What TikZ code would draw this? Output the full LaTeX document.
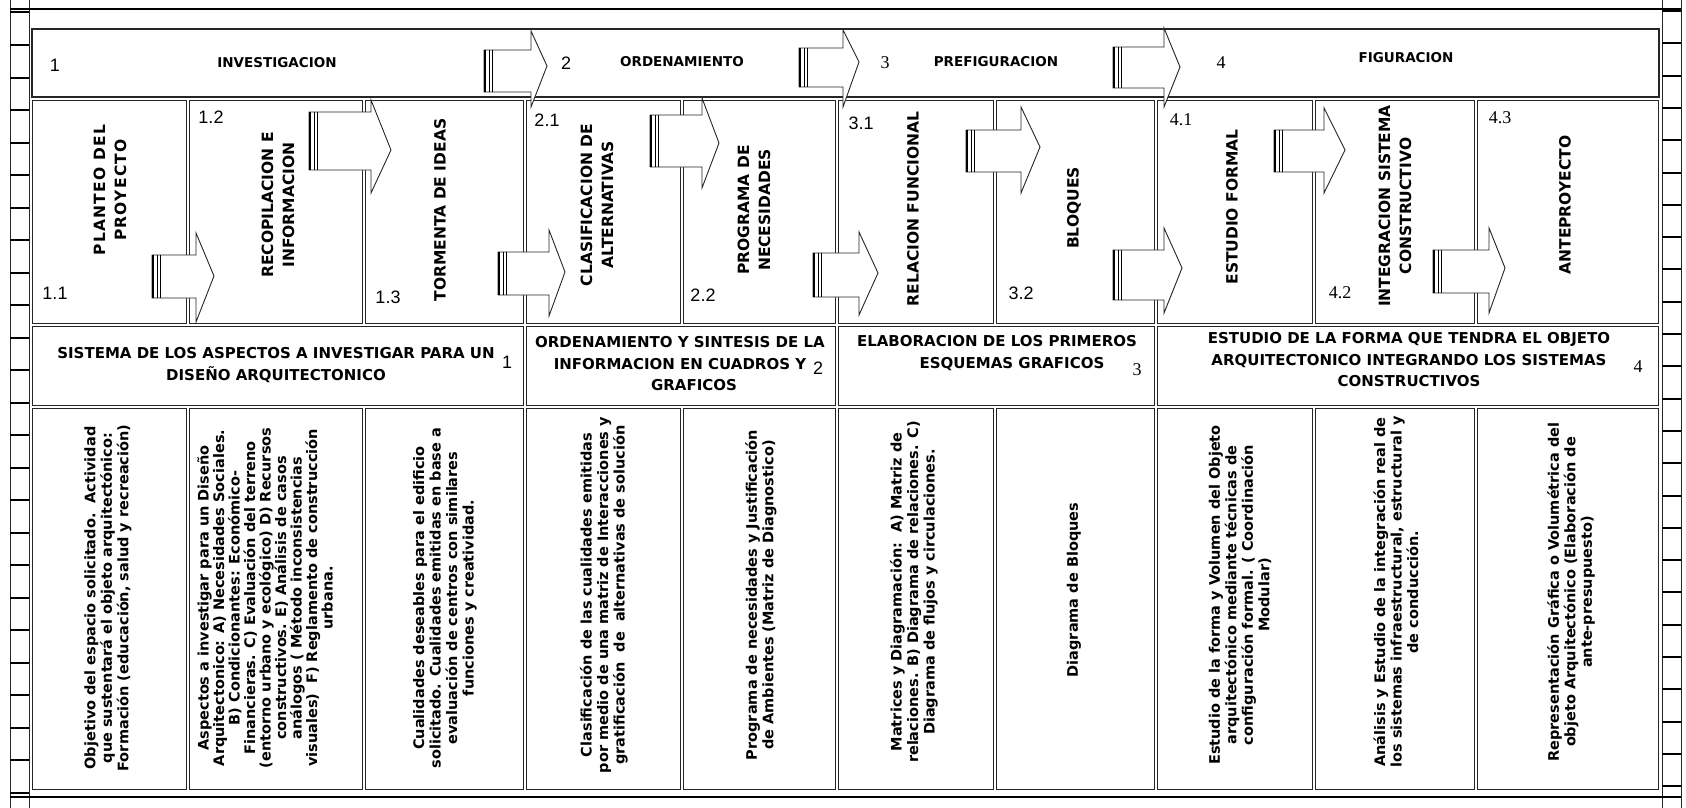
\documentclass[tikz,border=0pt]{standalone}
\usepackage{fontspec}
\setmainfont{DejaVu Sans}
\newfontfamily\numsf{Liberation Sans}
\newfontfamily\numrm{Liberation Serif}
\usetikzlibrary{positioning}

\tikzset{
  frame/.style={draw=black!85,line width=1pt},
  ttl/.style={font=\fontsize{13.5}{16}\selectfont\bfseries,inner sep=0pt},
  stg/.style={rotate=90,align=center,font=\fontsize{15.5}{21}\selectfont\bfseries,inner sep=0pt},
  dsc/.style={align=center,font=\fontsize{15}{21.5}\selectfont\bfseries,inner sep=0pt},
  det/.style={rotate=90,align=center,font=\fontsize{14.5}{16.5}\selectfont\bfseries,inner sep=0pt},
  numa/.style={font=\fontsize{18}{18}\selectfont\numsf,inner sep=0pt},
  numb/.style={font=\fontsize{18}{18}\selectfont\numrm,inner sep=0pt}
}

% block arrow: left, head base, shaft top, shaft bottom, head top, head bottom, tip x, tip y
\newcommand{\blockarr}[8]{%
  \draw[frame,fill=white,line width=0.9pt] (#1,#3) -- (#2,#3) -- (#2,#5) -- (#7,#8) -- (#2,#6) -- (#2,#4) -- (#1,#4) -- cycle;
  \draw[line width=2.4pt] (#1+1,#3) -- (#1+1,#4);
  \draw[line width=0.8pt] (#1+5,#3) -- (#1+5,#4) (#1+8,#3) -- (#1+8,#4);
}

\begin{document}
\begin{tikzpicture}[x=1pt,y=-1pt]
\useasboundingbox (0,0) rectangle (1686,808);

\draw[frame] (10,0) -- (10,808) (29,0) -- (29,808) (1662,0) -- (1662,808) (1681,0) -- (1681,808);
\foreach \k in {0,...,24} {
  \draw[line width=2pt] (10,{12.5+32.5*\k}) -- (29,{12.5+32.5*\k});
  \draw[line width=2pt] (1662,{11+32.3*\k}) -- (1681,{11+32.3*\k});
}
\draw[line width=2.5pt] (10,9) -- (1681,9);
\draw[line width=1.5pt] (10,797) -- (1681,797);

\draw[frame,line width=1.6pt] (32,29) rectangle (1659,97);
\foreach \a/\b in {31/188,188/364,364/525,525/682,682/837,837/995,995/1156,1156/1314,1314/1476,1476/1660} {
  \draw[frame] (\a+1.5,100) rectangle (\b-1.5,323);
  \draw[frame] (\a+1.5,408) rectangle (\b-1.5,789);
}
\foreach \a/\b in {31/525,525/837,837/1156,1156/1660}
  \draw[frame] (\a+1.5,326) rectangle (\b-1.5,405);

\blockarr{484}{531}{50}{92}{31}{107}{547}{66}
\blockarr{799}{843}{48}{87}{30}{107}{859}{62}
\blockarr{1113}{1164}{47}{88}{28}{107}{1180}{67}
\blockarr{152}{196}{255}{298}{233}{322}{214}{276}
\blockarr{309}{371}{112}{170}{100}{193}{391}{150}
\blockarr{498}{549}{252}{295}{230}{316}{565}{272}
\blockarr{650}{702}{115}{167}{98}{188}{719}{143}
\blockarr{813}{859}{253}{297}{232}{315}{878}{273}
\blockarr{966}{1021}{130}{172}{107}{193}{1040}{147}
\blockarr{1113}{1164}{250}{300}{228}{313}{1182}{268}
\blockarr{1274}{1324}{130}{172}{108}{193}{1345}{150}
\blockarr{1433}{1489}{250}{293}{228}{313}{1505}{268}

\node[numa] (n1) at (55,65) {1};
\node[ttl] (hInv) at (277,63) {INVESTIGACION};
\node[numa] (n2) at (566,63) {2};
\node[ttl] (hOrd) at (682,62) {ORDENAMIENTO};
\node[numb] (n3) at (885,63) {3};
\node[ttl] (hPre) at (996,62) {PREFIGURACION};
\node[numb] (n4) at (1221,63) {4};
\node[ttl] (hFig) at (1406,58) {FIGURACION};

\node[stg] (s11) at (110,190) {\addfontfeature{LetterSpace=8}PLANTEO DEL\\\addfontfeature{LetterSpace=8}PROYECTO};
\node[stg] (s12) at (278,205) {RECOPILACION E\\INFORMACION};
\node[stg] (s13) at (440,210) {TORMENTA DE IDEAS};
\node[stg] (s21) at (597,205) {CLASIFICACION DE\\ALTERNATIVAS};
\node[stg] (s22) at (754,210) {PROGRAMA DE\\NECESIDADES};
\node[stg] (s31) at (913,209) {RELACION FUNCIONAL};
\node[stg] (s32) at (1074,208) {BLOQUES};
\node[stg] (s41) at (1232,207) {ESTUDIO FORMAL};
\node[stg] (s42) at (1395,206) {INTEGRACION SISTEMA\\CONSTRUCTIVO};
\node[stg] (s43) at (1565,205) {ANTEPROYECTO};

\node[numa] (k11) at (55,293) {1.1};
\node[numa] (k12) at (211,117) {1.2};
\node[numa] (k13) at (388,297) {1.3};
\node[numa] (k21) at (547,120) {2.1};
\node[numa] (k22) at (703,295) {2.2};
\node[numa] (k31) at (861,123) {3.1};
\node[numa] (k32) at (1021,293) {3.2};
\node[numb] (k41) at (1181,120) {4.1};
\node[numb] (k42) at (1340,293) {4.2};
\node[numb] (k43) at (1500,118) {4.3};

\node[dsc] (d1) at (276,365) {SISTEMA DE LOS ASPECTOS A INVESTIGAR PARA UN\\DISEÑO ARQUITECTONICO};
\node[numa] (e1) at (507,362) {1};
\node[dsc] (d2) at (680,364) {ORDENAMIENTO Y SINTESIS DE LA\\INFORMACION EN CUADROS Y\\\hspace*{28pt}GRAFICOS};
\node[numa] (e2) at (818,368) {2};
\node[dsc] (d3) at (997,353) {ELABORACION DE LOS PRIMEROS\\\hspace*{30pt}ESQUEMAS GRAFICOS};
\node[numb] (e3) at (1137,370) {3};
\node[dsc] (d4) at (1409,360) {ESTUDIO DE LA FORMA QUE TENDRA EL OBJETO\\ARQUITECTONICO INTEGRANDO LOS SISTEMAS\\CONSTRUCTIVOS};
\node[numb] (e4) at (1638,367) {4};

\node[det] (t11) at (108,598) {Objetivo del espacio solicitado.\ \ Actividad\\que sustentará el objeto arquitectónico:\\Formación (educación, salud y recreación)};
\node[det,font=\fontsize{14.5}{15.5}\selectfont\bfseries] (t12) at (265,598) {Aspectos a investigar para un Diseño\\Arquitectonico: A) Necesidades Sociales.\\B) Condicionantes: Económico-\\Financieras. C) Evaluación del terreno\\(entorno urbano y ecológico) D) Recursos\\constructivos. E) Análisis de casos\\análogos ( Método inconsistencias\\visuales)\ \ F) Reglamento de construcción\\urbana.};
\node[det] (t13) at (445,598) {Cualidades deseables para el edificio\\solicitado. Cualidades emitidas en base a\\evaluación de centros con similares\\funciones y creatividad.};
\node[det] (t21) at (604,595) {Clasificación de las cualidades emitidas\\por medio de una matriz de Interacciones y\\gratificación\ \ de\ \ alternativas de solución};
\node[det] (t22) at (761,595) {Programa de necesidades y Justificación\\de Ambientes (Matriz de Diagnostico)};
\node[det] (t31) at (914,592) {Matrices y Diagramación:\ \ A) Matriz de\\relaciones. B) Diagrama de relaciones. C)\\Diagrama de flujos y circulaciones.};
\node[det] (t32) at (1074,590) {Diagrama de Bloques};
\node[det] (t41) at (1240,595) {Estudio de la forma y Volumen del Objeto\\arquitectónico mediante técnicas de\\configuración formal. ( Coordinación\\Modular)};
\node[det] (t42) at (1396,592) {Análisis y Estudio de la integración real de\\los sistemas infraestructural, estructural y\\de conducción.};
\node[det] (t43) at (1571,592) {Representación Gráfica o Volumétrica del\\objeto Arquitectónico (Elaboración de\\ante-presupuesto)};
\end{tikzpicture}
\end{document}
